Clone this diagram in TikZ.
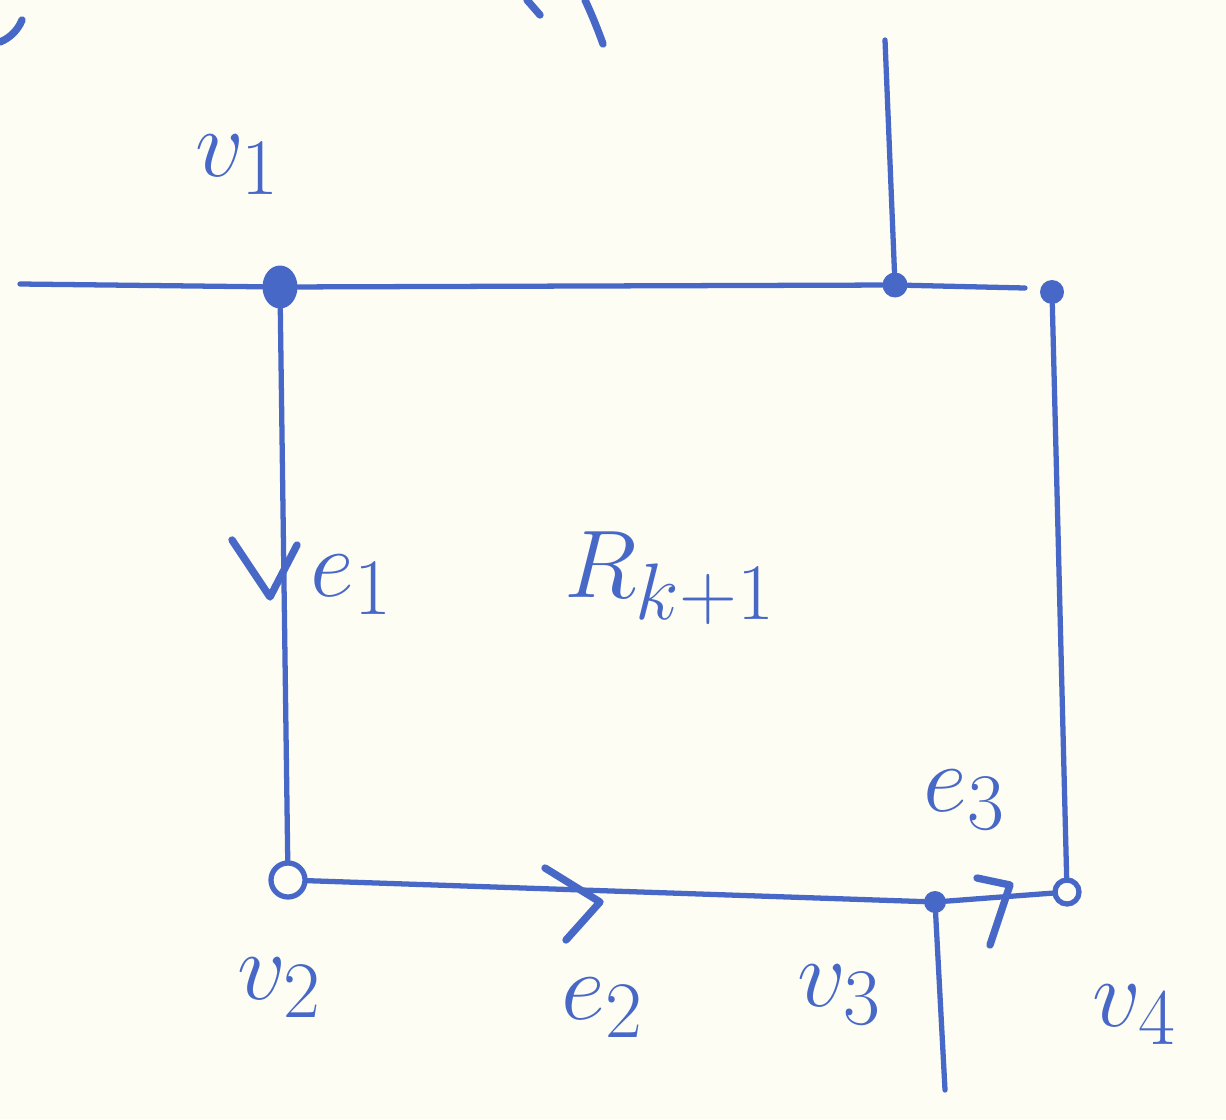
\documentclass[tikz,border=0pt]{standalone}
\usetikzlibrary{shapes.geometric}
\usepackage{xcolor}
\definecolor{ink}{RGB}{72,104,200}
\definecolor{paper}{RGB}{253,253,243}
\begin{document}
\begin{tikzpicture}[x=0.02cm,y=-0.02cm,
  inkline/.style={draw=ink,line width=3pt,line cap=round,line join=round},
  chev/.style={draw=ink,line width=4.2pt,line cap=round,line join=round},
  dotf/.style={circle,fill=ink,inner sep=0pt,minimum size=#1},
  doto/.style={circle,draw=ink,line width=3pt,fill=paper,inner sep=0pt,minimum size=#1},
  lab/.style={text=ink,font=\Huge,inner sep=0pt,scale=2.2,transform shape}]
\fill[paper] (0,0) rectangle (1226,1119);
\useasboundingbox (0,0) rectangle (1226,1119);
% vertices
\node[ellipse,fill=ink,inner sep=0pt,minimum width=0.7cm,minimum height=0.86cm] (v1) at (280,287) {};
\node[dotf=0.5cm] (j) at (895,285) {};
\node[dotf=0.48cm] (c) at (1052,292) {};
\node[doto=0.68cm] (v2) at (288,880) {};
\node[dotf=0.44cm] (v3) at (935,902) {};
\node[doto=0.48cm] (v4) at (1067,892) {};
\coordinate (L) at (20,284);
\coordinate (T) at (885,40);
\coordinate (E) at (1025,288);
\coordinate (B) at (945,1090);
% edges
\draw[inkline] (L) -- (v1);
\draw[inkline] (v1) -- (j);
\draw[inkline] (j) -- (E);
\draw[inkline] (j) -- (T);
\draw[inkline] (v1) -- (v2);
\draw[inkline] (v2) -- (v3);
\draw[inkline] (v3) -- (v4);
\draw[inkline] (c) -- (v4);
\draw[inkline] (v3) -- (B);
% direction marks
\draw[chev] (232,540) -- (270,597) -- (297,545);
\draw[chev] (545,868) -- (600,902) -- (566,940);
\draw[chev] (977,878) -- (1010,885) -- (990,945);
% cut-off strokes at the top
\draw[chev] (0,42) .. controls (10,38) and (18,30) .. (22,20);
\draw[chev] (527,0) -- (540,15);
\draw[chev] (585,0) .. controls (592,15) and (598,30) .. (603,44);
% labels
\node[lab] (lv1) at (238,165) {$v_1$};
\node[lab] (le1) at (352,585) {$e_1$};
\node[lab] (lR) at (670,578) {$R_{k+1}$};
\node[lab] (le3) at (965,800) {$e_3$};
\node[lab] (lv2) at (280,988) {$v_2$};
\node[lab] (le2) at (603,1008) {$e_2$};
\node[lab] (lv3) at (840,995) {$v_3$};
\node[lab] (lv4) at (1135,1015) {$v_4$};
\end{tikzpicture}
\end{document}
